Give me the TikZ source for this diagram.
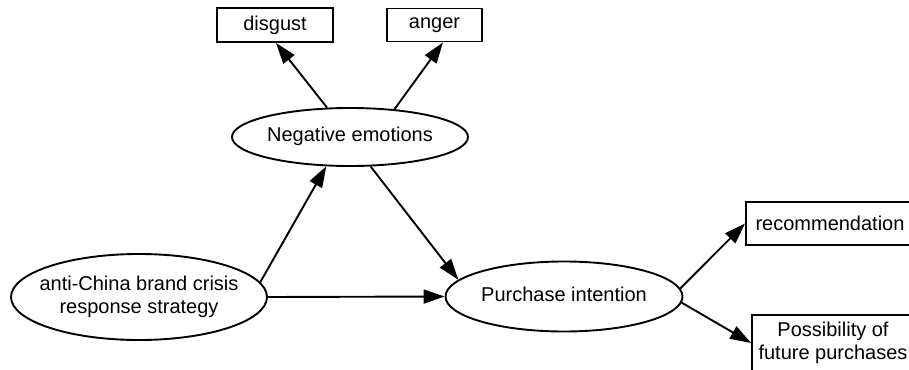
\documentclass[tikz,border=0pt]{standalone}
\usepackage{fontspec}
\setmainfont{Liberation Sans}
\usetikzlibrary{shapes.geometric,arrows.meta}
\newcommand{\ctext}[1]{\makebox[0pt][c]{\begin{tabular}{@{}c@{}}#1\end{tabular}}}
\begin{document}
\begin{tikzpicture}[x=1pt,y=-1pt,
  every node/.style={font=\fontsize{20}{23}\selectfont, text=black, inner sep=0pt},
  oval/.style={ellipse, draw=black, line width=1.9pt, fill=white},
  tag/.style={rectangle, draw=black, line width=1.9pt, fill=white, align=center},
  link/.style={draw=black, line width=1.9pt, -{Triangle[length=21pt,width=14pt]}}]
\clip (0,0) rectangle (909,369);
\fill[white] (0,0) rectangle (909,369);
% nodes
\node[tag, minimum width=116pt, minimum height=34pt] (disgust) at (275,25) {disgust};
\node[tag, minimum width=95pt, minimum height=33pt] (anger) at (434.5,25) {anger};
\node[oval, minimum width=236pt, minimum height=58pt] (ne) at (350,137) {\ctext{Negative emotions}};
\node[oval, minimum width=256pt, minimum height=86pt] (ac) at (139,297) {\ctext{anti-China brand crisis\\response strategy}};
\node[oval, minimum width=237pt, minimum height=70pt] (pi) at (564,296.5) {\ctext{Purchase intention}};
\node[tag, minimum width=168pt, minimum height=43pt] (rec) at (830,223.5) {recommendation};
\node[tag, minimum width=162pt, minimum height=56pt] (pos) at (833,343) {Possibility of\\future purchases};
% connectors
\draw[link] (ne.128.4) -- ([xshift=1pt]disgust.south);
\draw[link] (ne.32) -- ([xshift=8.5pt]anger.south);
\draw[link] (ac.7.7) -- (ne.231.6);
\draw[link] (ne.-55.4) -- (pi.171.5);
\draw[link] (ac.east) -- (pi.west);
\draw[link] (pi.4) -- (rec.west);
\draw[link] (pi.-3) -- (pos.west);
\end{tikzpicture}
\end{document}
